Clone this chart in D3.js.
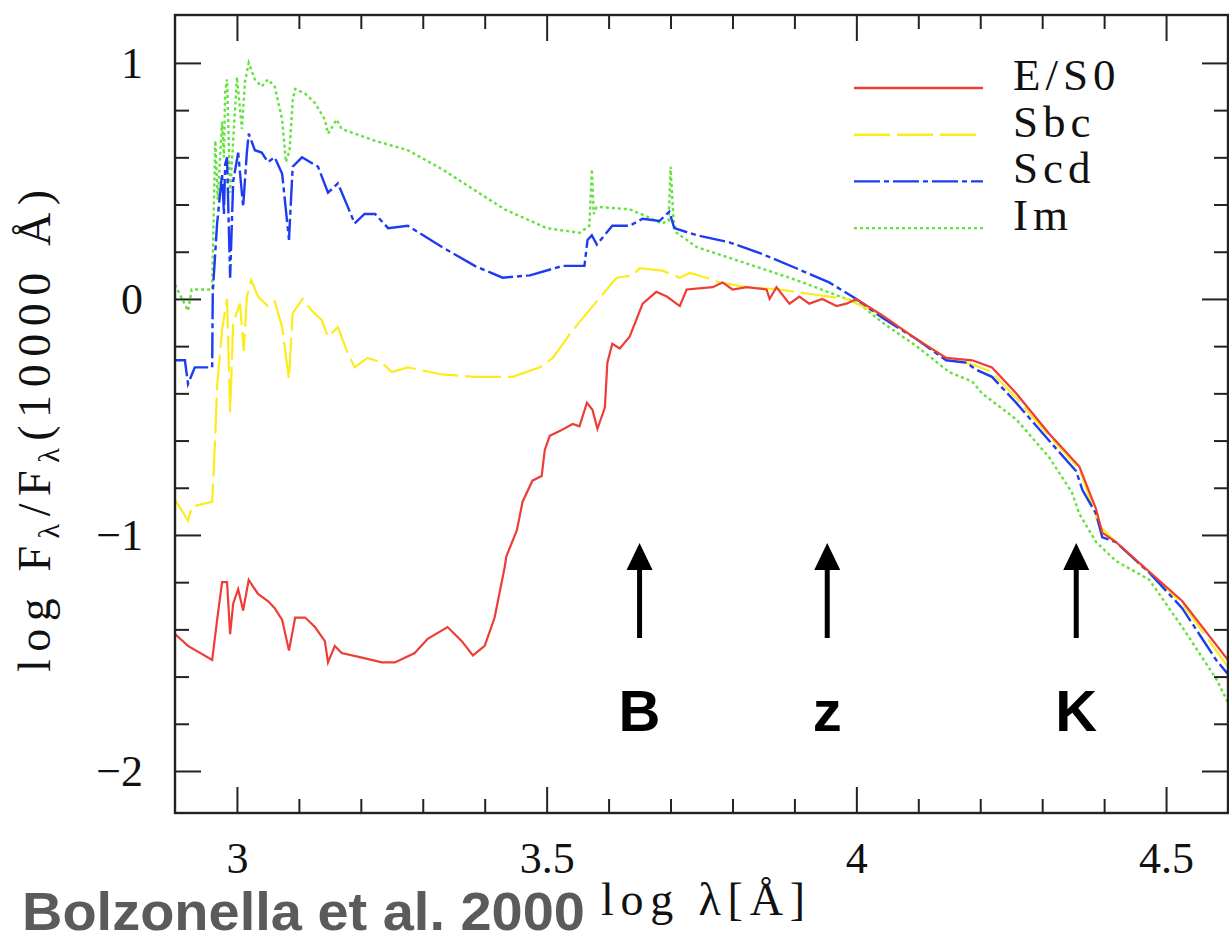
<!DOCTYPE html>
<html>
<head>
<meta charset="utf-8">
<script src="https://cdn.jsdelivr.net/npm/d3@7"></script>
<style>
  body { margin: 0; background: #fff; }
  svg { display: block; }
  .serif { font-family: "Liberation Serif", "DejaVu Serif", serif; fill: #111; }
  .tick text { font-family: "Liberation Serif", serif; fill: #111; }
  .domain { display: none; }
</style>
</head>
<body>
<div id="chart"></div>
<script>
// template spectra, log F_lambda / F_lambda(10000 A) vs log lambda [A]
// E/S0
var es0 = [
  [2.900,-1.42],[2.921,-1.47],[2.960,-1.53],[2.968,-1.36],[2.976,-1.20],[2.984,-1.20],
  [2.989,-1.42],[2.994,-1.29],[3.002,-1.23],[3.010,-1.32],[3.019,-1.19],[3.034,-1.25],
  [3.050,-1.28],[3.061,-1.31],[3.073,-1.36],[3.084,-1.49],[3.094,-1.35],[3.110,-1.35],
  [3.126,-1.39],[3.142,-1.45],[3.147,-1.54],[3.158,-1.47],[3.169,-1.50],[3.202,-1.52],
  [3.234,-1.54],[3.255,-1.54],[3.287,-1.50],[3.308,-1.44],[3.340,-1.39],[3.363,-1.45],
  [3.381,-1.51],[3.400,-1.47],[3.416,-1.35],[3.432,-1.14],[3.435,-1.09],[3.452,-0.98],
  [3.461,-0.86],[3.477,-0.77],[3.492,-0.75],[3.497,-0.64],[3.505,-0.58],[3.521,-0.56],
  [3.542,-0.53],[3.553,-0.54],[3.565,-0.44],[3.574,-0.47],[3.582,-0.55],[3.594,-0.46],
  [3.598,-0.27],[3.606,-0.19],[3.618,-0.21],[3.634,-0.16],[3.655,-0.02],[3.677,0.03],
  [3.694,0.01],[3.715,-0.03],[3.726,0.04],[3.768,0.05],[3.784,0.07],[3.800,0.04],
  [3.823,0.05],[3.855,0.04],[3.860,0.00],[3.871,0.05],[3.892,-0.02],[3.908,0.01],
  [3.924,-0.02],[3.945,0.00],[3.968,-0.03],[3.984,-0.02],[4.000,0.00],[4.042,-0.07],
  [4.097,-0.17],[4.145,-0.25],[4.187,-0.26],[4.219,-0.29],[4.258,-0.40],[4.311,-0.57],
  [4.360,-0.71],[4.387,-0.89],[4.397,-0.99],[4.419,-1.03],[4.526,-1.28],[4.600,-1.53]
];
// Sbc
var sbc = [
  [2.900,-0.85],[2.921,-0.94],[2.927,-0.88],[2.960,-0.86],[2.965,-0.58],[2.968,-0.37],
  [2.976,-0.13],[2.984,0.00],[2.989,-0.48],[2.994,-0.10],[3.005,-0.02],[3.011,-0.22],
  [3.016,0.01],[3.023,0.08],[3.034,0.01],[3.050,-0.03],[3.061,-0.01],[3.073,-0.12],
  [3.084,-0.34],[3.090,-0.06],[3.106,0.00],[3.121,-0.05],[3.137,-0.09],[3.147,-0.16],
  [3.163,-0.12],[3.179,-0.23],[3.190,-0.29],[3.211,-0.25],[3.234,-0.27],[3.250,-0.31],
  [3.276,-0.29],[3.331,-0.32],[3.384,-0.33],[3.445,-0.33],[3.489,-0.29],[3.510,-0.25],
  [3.537,-0.15],[3.565,-0.06],[3.597,0.04],[3.613,0.09],[3.639,0.10],[3.650,0.13],
  [3.687,0.12],[3.715,0.09],[3.731,0.11],[3.758,0.09],[3.779,0.07],[3.823,0.05],
  [3.876,0.04],[3.929,0.02],[3.984,0.00],[4.042,-0.07],[4.097,-0.17],[4.145,-0.25],
  [4.190,-0.28],[4.219,-0.31],[4.258,-0.42],[4.311,-0.58],[4.360,-0.72],[4.392,-0.96],
  [4.419,-1.03],[4.526,-1.29],[4.600,-1.56]
];
// Scd
var scd = [
  [2.900,-0.26],[2.916,-0.26],[2.921,-0.36],[2.932,-0.29],[2.960,-0.29],[2.961,0.03],
  [2.968,0.32],[2.976,0.53],[2.979,0.36],[2.981,0.57],[2.984,0.60],[2.989,0.09],
  [2.994,0.50],[3.002,0.62],[3.010,0.39],[3.016,0.62],[3.019,0.70],[3.029,0.63],
  [3.040,0.62],[3.050,0.58],[3.061,0.60],[3.073,0.53],[3.084,0.25],[3.090,0.56],
  [3.105,0.60],[3.131,0.56],[3.147,0.45],[3.163,0.49],[3.179,0.39],[3.190,0.32],
  [3.206,0.36],[3.223,0.36],[3.244,0.30],[3.276,0.31],[3.331,0.22],[3.384,0.14],
  [3.429,0.09],[3.473,0.10],[3.526,0.14],[3.561,0.14],[3.566,0.25],[3.573,0.27],
  [3.581,0.23],[3.606,0.31],[3.634,0.31],[3.655,0.34],[3.682,0.33],[3.698,0.37],
  [3.706,0.30],[3.742,0.27],[3.795,0.24],[3.848,0.19],[3.903,0.13],[3.956,0.07],
  [4.000,0.00],[4.042,-0.08],[4.097,-0.17],[4.145,-0.26],[4.177,-0.27],[4.194,-0.30],
  [4.219,-0.33],[4.258,-0.44],[4.311,-0.60],[4.355,-0.73],[4.365,-0.81],[4.387,-0.91],
  [4.397,-1.01],[4.419,-1.03],[4.473,-1.16],[4.526,-1.31],[4.581,-1.53],[4.600,-1.59]
];
// Im
var im = [
  [2.900,0.06],[2.921,-0.05],[2.927,0.04],[2.960,0.04],[2.965,0.67],[2.969,0.42],
  [2.976,0.75],[2.979,0.60],[2.981,0.88],[2.984,0.93],[2.989,0.45],[3.000,0.94],
  [3.008,0.72],[3.013,0.92],[3.019,1.00],[3.029,0.93],[3.040,0.90],[3.050,0.93],
  [3.061,0.90],[3.073,0.76],[3.079,0.58],[3.085,0.63],[3.090,0.84],[3.094,0.89],
  [3.110,0.87],[3.126,0.83],[3.142,0.76],[3.147,0.70],[3.161,0.76],[3.169,0.72],
  [3.223,0.67],[3.276,0.63],[3.331,0.55],[3.384,0.46],[3.432,0.38],[3.500,0.30],
  [3.553,0.28],[3.569,0.31],[3.573,0.55],[3.576,0.36],[3.581,0.39],[3.634,0.38],
  [3.661,0.35],[3.685,0.32],[3.697,0.33],[3.700,0.56],[3.705,0.33],[3.710,0.28],
  [3.742,0.22],[3.823,0.15],[3.903,0.08],[3.984,0.00],[4.000,-0.01],[4.042,-0.10],
  [4.097,-0.20],[4.150,-0.31],[4.187,-0.35],[4.203,-0.40],[4.258,-0.51],[4.311,-0.67],
  [4.348,-0.82],[4.360,-0.91],[4.387,-1.03],[4.419,-1.11],[4.473,-1.19],[4.526,-1.39],
  [4.581,-1.61],[4.600,-1.71]
];

var seriesNames = ["E/S0", "Sbc", "Scd", "Im"];
var xMajor = [3, 3.5, 4, 4.5];
var xMinor = [3.1, 3.2, 3.3, 3.4, 3.6, 3.7, 3.8, 3.9, 4.1, 4.2, 4.3, 4.4, 4.6];
var yMajor = [-2, -1, 0, 1];
var yMinor = [-1.8, -1.6, -1.4, -1.2, -0.8, -0.6, -0.4, -0.2, 0.2, 0.4, 0.6, 0.8];
// filter bands marked with arrows (log lambda)
var bandX = [3.65, 3.953, 4.355];
var bandNames = ["B", "z", "K"];

var W = 1229, H = 943;
var svg = d3.select("#chart").append("svg")
    .attr("width", W).attr("height", H);

var x = d3.scaleLinear().domain([2.9, 4.6]).range([175, 1228]);
var y = d3.scaleLinear().domain([-2.178, 1.203]).range([813, 15]);

var styles = [
  {color: "#ee3d36", dash: null,          w: 2.2},
  {color: "#fcec1e", dash: "36,7",        w: 2.2},
  {color: "#1c3cf2", dash: "26,4,5,4",    w: 2.4},
  {color: "#62e23c", dash: "3,3",         w: 2.4}
];
var allSeries = [es0, sbc, scd, im];

svg.append("clipPath").attr("id", "plotclip")
  .append("rect")
    .attr("x", 175).attr("y", 15)
    .attr("width", 1228 - 175).attr("height", 813 - 15);

var line = d3.line()
    .x(function(d) { return x(d[0]); })
    .y(function(d) { return y(d[1]); });

var curves = svg.append("g").attr("clip-path", "url(#plotclip)");
// draw Im first so the others sit on top like the original
[3, 1, 2, 0].forEach(function(i) {
  curves.append("path")
    .datum(allSeries[i])
    .attr("d", line)
    .attr("fill", "none")
    .attr("stroke", styles[i].color)
    .attr("stroke-width", styles[i].w)
    .attr("stroke-dasharray", styles[i].dash)
    .attr("stroke-linejoin", "miter");
});

// axes, ticks pointing inward on all four sides
function tickFmt(d) { return d3.format("")(d).replace("-", "\u2212"); }

svg.append("g").attr("transform", "translate(0,813)")
  .call(d3.axisBottom(x).tickValues(xMajor).tickSize(-26).tickPadding(29).tickFormat(tickFmt))
  .call(function(g) { g.selectAll("text").attr("font-size", 44); });
svg.append("g").attr("transform", "translate(0,813)")
  .call(d3.axisBottom(x).tickValues(xMinor).tickSize(-14).tickFormat(""));
svg.append("g").attr("transform", "translate(0,15)")
  .call(d3.axisTop(x).tickValues(xMajor).tickSize(-26).tickFormat(""));
svg.append("g").attr("transform", "translate(0,15)")
  .call(d3.axisTop(x).tickValues(xMinor).tickSize(-14).tickFormat(""));

svg.append("g").attr("transform", "translate(175,0)")
  .call(d3.axisLeft(y).tickValues(yMajor).tickSize(-26).tickPadding(32).tickFormat(tickFmt))
  .call(function(g) { g.selectAll("text").attr("font-size", 44); });
svg.append("g").attr("transform", "translate(175,0)")
  .call(d3.axisLeft(y).tickValues(yMinor).tickSize(-14).tickFormat(""));
svg.append("g").attr("transform", "translate(1228,0)")
  .call(d3.axisRight(y).tickValues(yMajor).tickSize(-26).tickFormat(""));
svg.append("g").attr("transform", "translate(1228,0)")
  .call(d3.axisRight(y).tickValues(yMinor).tickSize(-14).tickFormat(""));

svg.selectAll(".tick line").attr("stroke", "#222").attr("stroke-width", 2);

svg.append("rect")
  .attr("x", 175).attr("y", 15)
  .attr("width", 1228 - 175).attr("height", 813 - 15)
  .attr("fill", "none").attr("stroke", "#222").attr("stroke-width", 2.4);

// legend
var legend = svg.append("g");
seriesNames.forEach(function(name, i) {
  var ly = 88 + i * 46.7;
  legend.append("line")
    .attr("x1", 854).attr("x2", 983)
    .attr("y1", ly).attr("y2", ly)
    .attr("stroke", styles[i].color)
    .attr("stroke-width", 2.4)
    .attr("stroke-dasharray", styles[i].dash);
  legend.append("text")
    .attr("class", "serif")
    .attr("x", 1013).attr("y", ly + 2)
    .attr("font-size", 45)
    .attr("letter-spacing", 5)
    .text(name);
});

// arrows for the B, z, K bands
bandX.forEach(function(bx, i) {
  var cx = x(bx), tip = 543, base = 570, bottom = 638;
  svg.append("line")
    .attr("x1", cx).attr("x2", cx)
    .attr("y1", base - 2).attr("y2", bottom)
    .attr("stroke", "#000").attr("stroke-width", 5);
  svg.append("path")
    .attr("d", "M" + cx + "," + tip + "L" + (cx - 13) + "," + base + "L" + (cx + 13) + "," + base + "Z")
    .attr("fill", "#000");
  svg.append("text")
    .attr("x", cx).attr("y", 731)
    .attr("text-anchor", "middle")
    .attr("font-family", "Liberation Sans, Arial, sans-serif")
    .attr("font-weight", "bold")
    .attr("font-size", 58)
    .text(bandNames[i]);
});

// axis titles
var xt = svg.append("text")
  .attr("class", "serif")
  .attr("x", 601).attr("y", 915)
  .attr("font-size", 46)
  .attr("textLength", 204).attr("lengthAdjust", "spacing");
xt.append("tspan").text("log  λ[Å]");

var yt = svg.append("text")
  .attr("class", "serif")
  .attr("transform", "translate(50,672) rotate(-90)")
  .attr("font-size", 46)
  .attr("textLength", 482).attr("lengthAdjust", "spacing");
yt.append("tspan").text("log  F");
yt.append("tspan").attr("font-size", 30).attr("dy", 9).text("λ");
yt.append("tspan").attr("dy", -9).text("/F");
yt.append("tspan").attr("font-size", 30).attr("dy", 9).text("λ");
yt.append("tspan").attr("dy", -9).text("(10000  Å)");

// credit
svg.append("text")
  .attr("x", 22).attr("y", 930)
  .attr("font-family", "Liberation Sans, Arial, sans-serif")
  .attr("font-weight", "bold")
  .attr("font-size", 54)
  .attr("fill", "#5b5b5b")
  .attr("textLength", 563).attr("lengthAdjust", "spacingAndGlyphs")
  .text("Bolzonella et al. 2000");
</script>
</body>
</html>
